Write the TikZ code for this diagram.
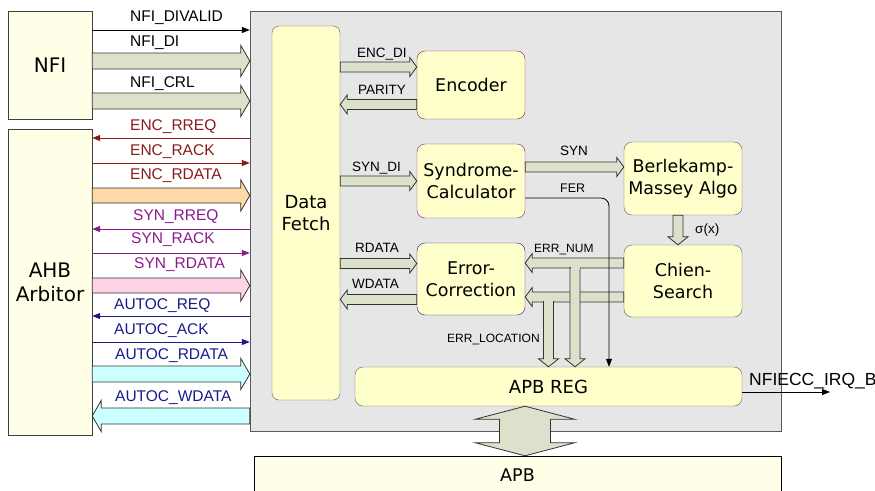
\documentclass[tikz,border=0pt]{standalone}
\usepackage{fontspec}
\setmainfont{Liberation Sans}
\newfontfamily\boxfont{DejaVu Sans}
\usetikzlibrary{arrows.meta, positioning, calc}

\definecolor{coregray}{HTML}{E6E6E6}
\definecolor{boxyellow}{HTML}{FFFFCC}
\definecolor{paleyellow}{HTML}{FFFFE8}
\definecolor{busgreen}{HTML}{DDE1CB}
\definecolor{encred}{HTML}{8B1A1A}
\definecolor{synpurple}{HTML}{8B1A8B}
\definecolor{autocblue}{HTML}{1A1A8B}
\definecolor{encfill}{HTML}{FFD9A8}
\definecolor{synfill}{HTML}{FFD3E6}
\definecolor{autocfill}{HTML}{CCFFFF}

\tikzset{
  block/.style={draw=black!65, fill=boxyellow, rounded corners=8pt, align=center, inner sep=0pt, font=\boxfont\fontsize{17.5}{22}\selectfont},
  sig/.style={-{Triangle[length=8pt,width=6pt]}, line width=0.8pt},
  fatline/.style={draw=black!80, line width=0.8pt, fill=busgreen},
  lbl/.style={anchor=base west, inner sep=0pt, font=\fontsize{15.5}{18}\selectfont},
  inlbl/.style={anchor=base west, inner sep=0pt, font=\fontsize{13.5}{16}\selectfont},
}

% wide outlined arrow: [style]{from}{to}{shaft half}{head half}{head length}
\newcommand{\fatarrow}[6][]{%
  \coordinate (fa-a) at #2;
  \coordinate (fa-b) at #3;
  \coordinate (fa-c) at ($(fa-b)!#6!(fa-a)$);
  \draw[fatline,#1] ($(fa-a)!#4!90:(fa-b)$) -- ($(fa-c)!#4!90:(fa-b)$) -- ($(fa-c)!#5!90:(fa-b)$) -- (fa-b)
    -- ($(fa-c)!#5!-90:(fa-b)$) -- ($(fa-c)!#4!-90:(fa-b)$) -- ($(fa-a)!#4!-90:(fa-b)$) -- cycle;
}

\begin{document}
\begin{tikzpicture}[x=1pt, y=-1pt]
  \useasboundingbox (0,0) rectangle (875,490);

  % outer blocks
  \node[block, rounded corners=0pt, fill=paleyellow, draw=black!75, minimum width=84pt, minimum height=108pt, font=\boxfont\fontsize{20}{24}\selectfont] (nfi) at (50,65) {NFI};
  \node[block, rounded corners=0pt, fill=paleyellow, draw=black!75, minimum width=84pt, minimum height=306pt, font=\boxfont\fontsize{20}{24}\selectfont] (ahb) at (50,282) {AHB\\Arbitor};
  \node[draw=black!65, fill=coregray, minimum width=531pt, minimum height=420pt, inner sep=0pt] (core) at (515.5,221) {};
  \node[block, rounded corners=0pt, draw=black, fill=paleyellow, minimum width=527pt, minimum height=38pt] (apb) at (517.5,475) {APB};

  % inner blocks
  \node[block, rounded corners=7pt, minimum width=68pt, minimum height=374pt, font=\boxfont\fontsize{18}{22}\selectfont] (fetch) at (306,213) {Data\\Fetch};
  \node[block, draw=encred, minimum width=108pt, minimum height=68pt] (enc) at (471,85) {Encoder};
  \node[block, draw=synpurple, minimum width=108pt, minimum height=74pt] (syn) at (471,181) {Syndrome-\\Calculator};
  \node[block, draw=autocblue, minimum width=108pt, minimum height=72pt] (errc) at (471,279) {Error-\\Correction};
  \node[block, minimum width=118pt, minimum height=73pt] (bm) at (683,178.5) {Berlekamp-\\Massey Algo};
  \node[block, minimum width=118pt, minimum height=72pt] (chien) at (683,281) {Chien-\\Search};
  \node[block, minimum width=387pt, minimum height=39pt, font=\boxfont\fontsize{18}{22}\selectfont] (reg) at (548.5,386.5) {APB REG};

  % NFI side
  \draw[sig] (nfi.east |- 0,30) -- (core.west |- 0,30);
  \fatarrow{(nfi.east |- 0,61)}{(core.west |- 0,61)}{8pt}{15.5pt}{9pt}
  \fatarrow{(nfi.east |- 0,101)}{(core.west |- 0,101)}{8pt}{15.5pt}{9pt}
  \node[lbl] (l-divalid) at (130,21) {NFI\_DIVALID};
  \node[lbl] (l-di) at (130,46) {NFI\_DI};
  \node[lbl] (l-crl) at (130,87) {NFI\_CRL};

  % AHB side
  \draw[sig, encred] (core.west |- 0,138) -- (ahb.east |- 0,138);
  \draw[sig, encred] (ahb.east |- 0,163) -- (core.west |- 0,163);
  \fatarrow[fill=encfill]{(ahb.east |- 0,195.5)}{(core.west |- 0,195.5)}{7.5pt}{15.5pt}{9pt}
  \draw[sig, synpurple] (core.west |- 0,229) -- (ahb.east |- 0,229);
  \draw[sig, synpurple] (ahb.east |- 0,253) -- (core.west |- 0,253);
  \fatarrow[fill=synfill]{(ahb.east |- 0,285.5)}{(core.west |- 0,285.5)}{7.5pt}{15.5pt}{9pt}
  \draw[sig, autocblue] (core.west |- 0,316) -- (ahb.east |- 0,316);
  \draw[sig, autocblue] (ahb.east |- 0,342) -- (core.west |- 0,342);
  \fatarrow[fill=autocfill]{(ahb.east |- 0,374)}{(core.west |- 0,374)}{8pt}{15.5pt}{9pt}
  \fatarrow[fill=autocfill]{(core.west |- 0,416)}{(ahb.east |- 0,416)}{8pt}{15.5pt}{9pt}
  \node[lbl, text=encred] (l-encrreq) at (130,130) {ENC\_RREQ};
  \node[lbl, text=encred] (l-encrack) at (130,155) {ENC\_RACK};
  \node[lbl, text=encred] (l-encrdata) at (130,179) {ENC\_RDATA};
  \node[lbl, text=synpurple] (l-synrreq) at (133,220) {SYN\_RREQ};
  \node[lbl, text=synpurple] (l-synrack) at (131,243) {SYN\_RACK};
  \node[lbl, text=synpurple] (l-synrdata) at (134,268) {SYN\_RDATA};
  \node[lbl, text=autocblue] (l-autocreq) at (114,309) {AUTOC\_REQ};
  \node[lbl, text=autocblue] (l-autocack) at (114,334) {AUTOC\_ACK};
  \node[lbl, text=autocblue] (l-autocrdata) at (115,359) {AUTOC\_RDATA};
  \node[lbl, text=autocblue] (l-autocwdata) at (115,401) {AUTOC\_WDATA};

  % data fetch links
  \fatarrow{(fetch.east |- 0,67)}{(enc.west |- 0,67)}{5pt}{9.5pt}{7pt}
  \fatarrow{(enc.west |- 0,104.5)}{(fetch.east |- 0,104.5)}{5pt}{9.5pt}{7pt}
  \fatarrow{(fetch.east |- 0,181)}{(syn.west |- 0,181)}{5pt}{9.5pt}{7pt}
  \fatarrow{(fetch.east |- 0,263.5)}{(errc.west |- 0,263.5)}{5pt}{9.5pt}{7pt}
  \fatarrow{(errc.west |- 0,299.5)}{(fetch.east |- 0,299.5)}{5pt}{9.5pt}{7pt}
  \fatarrow{(syn.east |- 0,167)}{(bm.west |- 0,167)}{5pt}{9.5pt}{7pt}
  \fatarrow{(678,0 |- bm.south)}{(678,0 |- chien.north)}{5pt}{10pt}{8pt}

  % chien search outputs with taps down to the registers
  \coordinate (loctap) at (548.5,301.6);
  \coordinate (numtap) at (575,267.6);
  \fatarrow{(chien.west |- 0,297)}{(errc.east |- 0,297)}{5pt}{9.5pt}{7pt}
  \fatarrow{(loctap)}{(loctap |- reg.north)}{5pt}{10pt}{8pt}
  \fill[busgreen] (544,299) rectangle (553,302.6);
  \fatarrow{(chien.west |- 0,263)}{(errc.east |- 0,263)}{5pt}{9.5pt}{7pt}
  \fatarrow{(numtap)}{(numtap |- reg.north)}{5pt}{10pt}{8pt}
  \fill[busgreen] (570.5,265) rectangle (579.5,268.6);

  \draw[sig, rounded corners=8pt] (syn.east |- 0,198) -| (609,0 |- reg.north);

  \node[inlbl] (l-encdi) at (357,57) {ENC\_DI};
  \node[inlbl] (l-parity) at (358,94) {PARITY};
  \node[inlbl] (l-syndi) at (352,171) {SYN\_DI};
  \node[inlbl] (l-syn) at (560,155) {SYN};
  \node[inlbl, font=\fontsize{12.5}{15}\selectfont] (l-fer) at (560,192) {FER};
  \node[inlbl] (l-rdata) at (355,252) {RDATA};
  \node[inlbl] (l-wdata) at (352,288) {WDATA};
  \node[inlbl, font=\fontsize{12}{15}\selectfont] (l-errnum) at (534,252) {ERR\_NUM};
  \node[inlbl, font=\fontsize{12}{15}\selectfont] (l-errloc) at (447,342) {ERR\_LOCATION};
  \node[inlbl] (l-sigma) at (695,233) {σ(x)};

  % interrupt out
  \coordinate (irq) at (830,392);
  \draw[sig] (reg.east |- irq) -- (irq);
  \node[lbl, font=\fontsize{17.5}{20}\selectfont] (l-irq) at (749,385) {NFIECC\_IRQ\_B};

  % APB bus
  \coordinate (bus-t) at (525,0 |- reg.south);
  \coordinate (bus-b) at (525,0 |- apb.north);
  \draw[fatline] (bus-t) -- ++(49.5,13) -- ++(-24,0) -- ($(bus-b)+(25.5,-13)$) -- ++(24,0) -- (bus-b)
    -- ++(-49.5,-13) -- ++(24,0) -- ($(bus-t)+(-25.5,13)$) -- ++(-24,0) -- cycle;
\end{tikzpicture}
\end{document}
